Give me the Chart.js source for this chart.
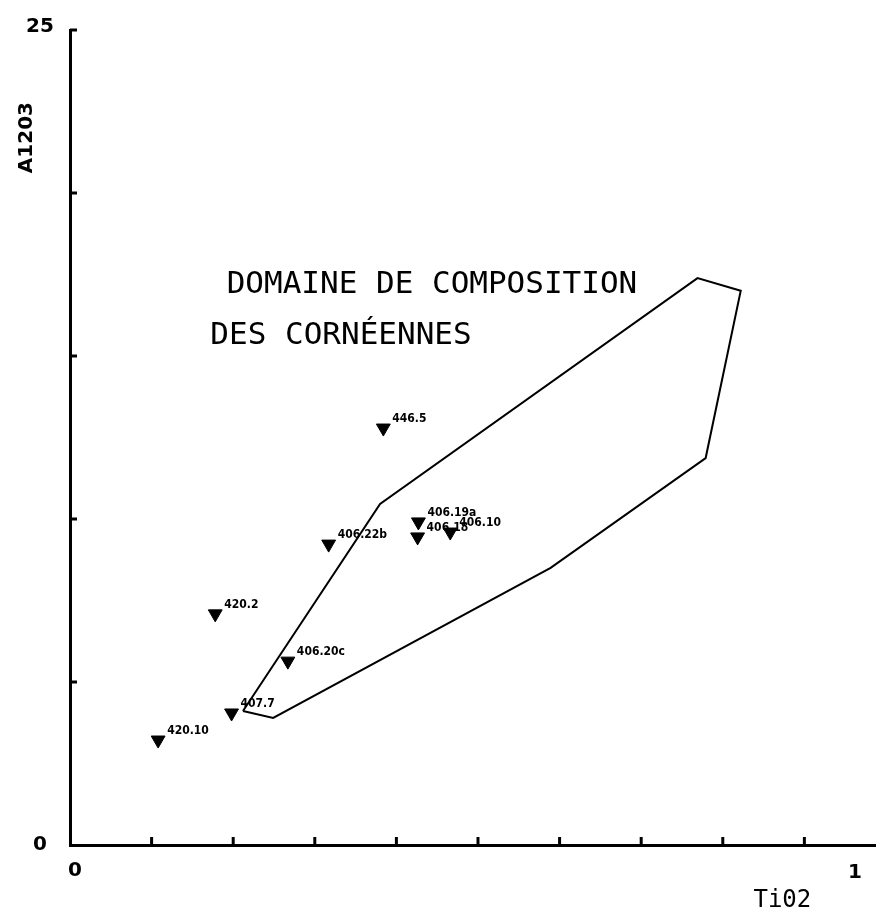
<!DOCTYPE html>
<html>
<head>
<meta charset="utf-8">
<script src="https://cdn.jsdelivr.net/npm/chart.js@4.4.1/dist/chart.umd.min.js"></script>
<style>
  html, body { margin: 0; padding: 0; background: #fff; overflow: hidden; }
  #wrap { width: 876px; height: 915px; overflow: hidden; }
</style>
</head>
<body>
<div id="wrap"><canvas id="chart" width="886" height="915"></canvas></div>
<script>
// echantillons (TiO2, Al2O3)
const sampleNames = ['420.10', '407.7', '420.2', '406.20c', '406.22b', '446.5', '406.19a', '406.18', '406.10'];
const tio2 = [0.108, 0.198, 0.178, 0.267, 0.317, 0.384, 0.427, 0.426, 0.466];
const al2o3 = [3.22, 4.05, 7.09, 5.64, 9.23, 12.79, 9.91, 9.45, 9.60];

// contour du domaine des cornéennes
const domaineX = [0.212, 0.249, 0.589, 0.779, 0.822, 0.769, 0.380, 0.212];
const domaineY = [4.11, 3.90, 8.50, 11.87, 17.00, 17.39, 10.46, 4.11];

const domaineText = ['DOMAINE DE COMPOSITION', 'DES CORNÉENNES'];
const xTickLabels = ['0', '1'];
const yTickLabels = ['0', '25'];
const xTitle = 'Ti02';
const yTitle = 'A1203';

const points = tio2.map((x, i) => ({ x: x, y: al2o3[i] }));
const domaine = domaineX.map((x, i) => ({ x: x, y: domaineY[i] }));

// ticks vers l'intérieur + textes
const decorPlugin = {
  id: 'decor',
  afterDraw(chart) {
    const c = chart.ctx;
    const xs = chart.scales.x, ys = chart.scales.y;
    const x0 = xs.getPixelForValue(0), y0 = ys.getPixelForValue(0);
    c.save();
    c.strokeStyle = '#000';
    c.lineWidth = 3;
    xs.ticks.forEach(t => {
      if (t.value <= 0 || t.value > 0.95) return;
      const px = xs.getPixelForValue(t.value);
      c.beginPath(); c.moveTo(px, y0); c.lineTo(px, y0 - 8); c.stroke();
    });
    ys.ticks.forEach(t => {
      if (t.value <= 0) return;
      const py = ys.getPixelForValue(t.value);
      c.beginPath(); c.moveTo(x0, py); c.lineTo(x0 + 7, py); c.stroke();
    });

    c.fillStyle = '#000';
    c.font = 'bold 20px "DejaVu Sans"';
    c.textAlign = 'center';
    c.textBaseline = 'middle';
    c.fillText(yTickLabels[0], x0 - 30, y0);
    c.fillText(yTickLabels[1], x0 - 30, ys.getPixelForValue(25) - 3);
    c.fillText(xTickLabels[0], x0 + 5, y0 + 26);
    c.fillText(xTickLabels[1], xs.getPixelForValue(1) - 31, y0 + 28);

    c.save();
    c.translate(x0 - 43, ys.getPixelForValue(21.7));
    c.rotate(-Math.PI / 2);
    c.fillText(yTitle, 0, 0);
    c.restore();

    c.font = '24px "DejaVu Sans Mono"';
    c.fillText(xTitle, xs.getPixelForValue(0.873), y0 + 56);

    c.font = '31px "DejaVu Sans Mono"';
    c.textAlign = 'left';
    c.fillText(domaineText[0], xs.getPixelForValue(0.192), ys.getPixelForValue(17.18));
    c.fillText(domaineText[1], xs.getPixelForValue(0.172), ys.getPixelForValue(15.62));

    // étiquettes des échantillons
    const meta = chart.getDatasetMeta(1);
    c.font = 'bold 12px "DejaVu Sans Condensed", "DejaVu Sans"';
    c.textBaseline = 'alphabetic';
    meta.data.forEach((el, i) => {
      c.fillText(sampleNames[i], el.x + 9, el.y - 6);
    });
    c.restore();
  }
};

new Chart(document.getElementById('chart'), {
  type: 'scatter',
  data: {
    datasets: [
      {
        label: 'domaine',
        data: domaine,
        showLine: true,
        fill: false,
        borderColor: '#000',
        borderWidth: 2,
        pointRadius: 0,
        tension: 0
      },
      {
        label: 'échantillons',
        data: points,
        pointStyle: 'triangle',
        rotation: 180,
        pointRadius: 8,
        backgroundColor: '#000',
        borderColor: '#000',
        borderWidth: 1
      }
    ]
  },
  plugins: [decorPlugin],
  options: {
    responsive: false,
    animation: false,
    layout: { padding: { left: 70, top: 30, right: 0, bottom: 70 } },
    plugins: { legend: { display: false }, tooltip: { enabled: false } },
    scales: {
      x: {
        type: 'linear',
        min: 0,
        max: 0.989,
        ticks: { display: false, stepSize: 0.1 },
        grid: { display: false, drawTicks: false },
        border: { display: true, color: '#000', width: 3 }
      },
      y: {
        type: 'linear',
        min: 0,
        max: 25,
        ticks: { display: false, stepSize: 5 },
        grid: { display: false, drawTicks: false },
        border: { display: true, color: '#000', width: 3 }
      }
    }
  }
});
</script>
</body>
</html>
